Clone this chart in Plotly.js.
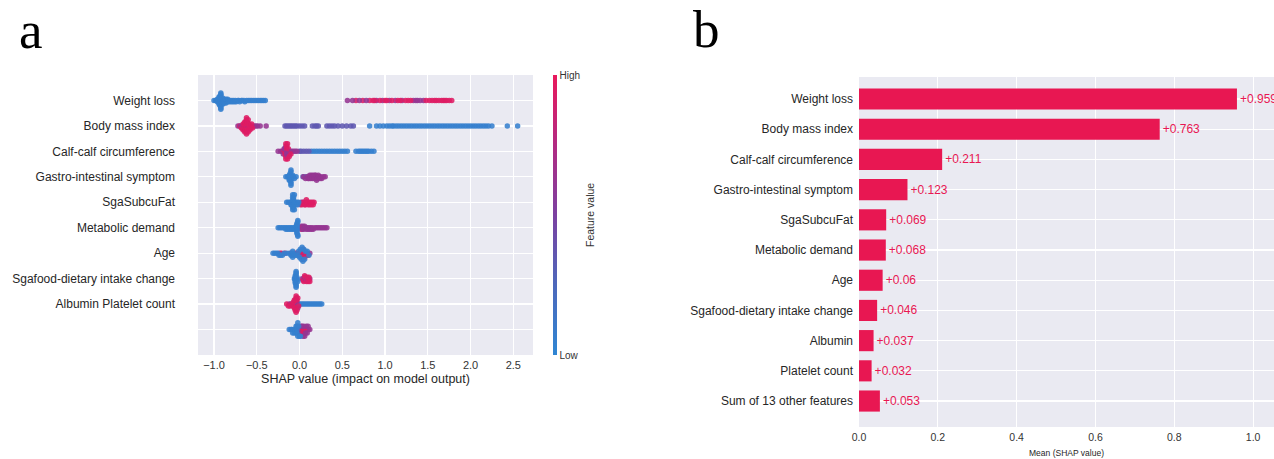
<!DOCTYPE html>
<html><head><meta charset="utf-8">
<script src="https://cdn.plot.ly/plotly-3.0.1.min.js"></script>
<style>html,body{margin:0;padding:0;background:#fff;}#chart{width:1274px;height:459px;}</style>
</head><body><div id="chart"></div>
<script>
// ---------- Panel a: SHAP summary (beeswarm) ----------
const summaryFeatures = ["Weight loss","Body mass index","Calf-calf circumference","Gastro-intestinal symptom","SgaSubcuFat","Metabolic demand","Age","Sgafood-dietary intake change","Albumin Platelet count",""];
// feature-value levels (low=blue ... high=red)
const levelLo = 0.05, levelMl = 0.35, levelMh = 0.62, levelHi = 0.95;

// SHAP values per row, grouped by dot colour
const wlLo = [-1.0,-0.98,-0.97,-0.96,-0.96,-0.95,-0.95,-0.95,-0.94,-0.94,-0.94,-0.94,-0.93,-0.93,-0.93,-0.93,-0.93,-0.93,-0.93,-0.93,-0.92,-0.92,-0.92,-0.92,-0.92,-0.92,-0.91,-0.91,-0.91,-0.9,-0.9,-0.9,-0.89,-0.89,-0.88,-0.88,-0.87,-0.87,-0.86,-0.86,-0.85,-0.84,-0.84,-0.83,-0.82,-0.81,-0.8,-0.79,-0.78,-0.77,-0.76,-0.75,-0.74,-0.72,-0.71,-0.7,-0.68,-0.67,-0.65,-0.64,-0.62,-0.6,-0.58,-0.56,-0.54,-0.52,-0.5,-0.48,-0.46,-0.44,-0.42,-0.4];
const wlMl = [];
const wlMh = [0.56,0.62,0.7,0.78,0.9,0.97,1.05,1.12,1.2,1.33,1.36,1.38,1.41,1.45];
const wlHi = [0.66,0.74,0.82,0.86,0.88,0.94,1.0,1.02,1.08,1.15,1.18,1.24,1.27,1.3,1.48,1.52,1.55,1.58,1.6,1.63,1.66,1.68,1.7,1.72,1.75,1.78];

const bmiLo = [0.82,0.9,0.94,0.98,1.02,1.05,1.08,1.1,1.13,1.16,1.19,1.22,1.25,1.28,1.31,1.34,1.37,1.4,1.43,1.46,1.49,1.52,1.55,1.58,1.61,1.64,1.67,1.7,1.73,1.76,1.79,1.82,1.85,1.88,1.91,1.94,1.97,2.0,2.03,2.06,2.09,2.12,2.15,2.18,2.21,2.25,2.43,2.55];
const bmiMl = [-0.17,-0.15,-0.13,-0.11,-0.09,-0.07,-0.05,-0.03,0.0,0.03,0.06,0.15,0.18,0.2,0.22,0.32,0.35,0.38,0.41,0.45,0.5,0.55,0.6,0.63];
const bmiMh = [-0.72,-0.69,-0.67,-0.65,-0.63,-0.62,-0.61,-0.6,-0.58,-0.57,-0.55,-0.53,-0.51,-0.49,-0.46,-0.39];
const bmiHi = [-0.7,-0.68,-0.67,-0.66,-0.66,-0.65,-0.65,-0.64,-0.64,-0.64,-0.63,-0.63,-0.63,-0.62,-0.62,-0.62,-0.62,-0.61,-0.61,-0.61,-0.6,-0.6,-0.59,-0.59,-0.58,-0.57,-0.56,-0.55];

const calfLo = [0.14,0.17,0.2,0.23,0.26,0.29,0.32,0.35,0.38,0.41,0.44,0.47,0.5,0.53,0.56,0.66,0.69,0.71,0.73,0.75,0.77,0.79,0.81,0.84,0.87];
const calfMl = [0.0,0.02,0.05,0.08,0.11];
const calfMh = [-0.25,-0.22,-0.19,-0.18,-0.17,-0.16,-0.15,-0.15,-0.14,-0.13,-0.12,-0.11,-0.09,-0.07,-0.05,-0.03];
const calfHi = [-0.2,-0.18,-0.17,-0.17,-0.16,-0.16,-0.16,-0.15,-0.15,-0.14,-0.14,-0.13,-0.12,-0.1];

const giLo = [-0.16,-0.14,-0.13,-0.12,-0.12,-0.12,-0.11,-0.11,-0.11,-0.11,-0.11,-0.1,-0.1,-0.1,-0.1,-0.1,-0.09,-0.09,-0.08,-0.07,-0.06,-0.04];
const giMl = [0.04,0.08,0.12,0.2];
const giMh = [0.05,0.07,0.09,0.1,0.11,0.12,0.13,0.14,0.15,0.15,0.16,0.17,0.17,0.18,0.19,0.2,0.21,0.22,0.23,0.24,0.25,0.26,0.28,0.3];
const giHi = [0.14,0.19,0.22];

const fatLo = [-0.15,-0.13,-0.11,-0.1,-0.09,-0.09,-0.08,-0.08,-0.08,-0.08,-0.08,-0.07,-0.07,-0.07,-0.07,-0.07,-0.06,-0.06,-0.05,-0.04,-0.03,-0.02,-0.01];
const fatMl = [];
const fatMh = [0.02,0.04,0.08];
const fatHi = [0.01,0.03,0.05,0.06,0.07,0.08,0.09,0.1,0.11,0.12,0.13,0.14,0.15,0.16,0.17];

const metLo = [-0.25,-0.23,-0.21,-0.19,-0.17,-0.16,-0.15,-0.14,-0.13,-0.12,-0.11,-0.1,-0.09,-0.08,-0.07,-0.06,-0.05,-0.04,-0.04,-0.03,-0.03,-0.03,-0.03,-0.03,-0.03,-0.03,-0.03,-0.02,-0.02,-0.02,-0.02];
const metMl = [];
const metMh = [0.01,0.02,0.03,0.04,0.05,0.06,0.07,0.08,0.09,0.1,0.11,0.12,0.13,0.14,0.15,0.16,0.18,0.2,0.22,0.24,0.26,0.28,0.3,0.32];
const metHi = [0.02,0.03,0.05];

const ageLo = [-0.31,-0.29,-0.27,-0.25,-0.24,-0.22,-0.2,-0.18,-0.15,-0.12,-0.1,-0.09,-0.09,-0.08,-0.08,-0.07,-0.06,-0.04,-0.02,-0.01,0.0,0.01,0.02,0.03,0.04,0.05,0.06,0.07,0.09,0.11];
const ageMl = [];
const ageMh = [-0.03,0.0,0.01,0.02,0.03,0.04,0.05,0.06,0.07,0.09,0.12];
const ageHi = [-0.23,-0.21,-0.17,-0.1,-0.05,0.0,0.01,0.02,0.03,0.03,0.04,0.04,0.05,0.06,0.08,0.1];

const foodLo = [-0.06,-0.05,-0.05,-0.05,-0.05,-0.05,-0.05,-0.04,-0.04,-0.04,-0.04,-0.04,-0.04,-0.03,-0.03,-0.03,-0.02];
const foodMl = [];
const foodMh = [0.03,0.05,0.06,0.07,0.08,0.09,0.1,0.12];
const foodHi = [0.04,0.05,0.05,0.06,0.07,0.08,0.09,0.1,0.11,0.11,0.12];

const albLo = [-0.06,-0.04,-0.03,-0.02,0.0,0.02,0.04,0.06,0.08,0.1,0.12,0.14,0.16,0.18,0.2,0.22,0.24,0.26];
const albMl = [];
const albMh = [-0.12,-0.1,-0.07,-0.05,-0.04,-0.03,-0.02];
const albHi = [-0.15,-0.13,-0.11,-0.09,-0.08,-0.07,-0.06,-0.06,-0.05,-0.05,-0.05,-0.04,-0.04,-0.04,-0.03,-0.03,-0.02,-0.01];

const lastLo = [-0.12,-0.1,-0.09,-0.08,-0.07,-0.06,-0.05,-0.04,-0.04,-0.03,-0.03,-0.03,-0.02,-0.02,-0.01,0.0,0.01];
const lastMl = [];
const lastMh = [-0.01,0.0,0.01,0.02,0.03,0.04,0.05,0.06,0.07,0.08,0.09,0.1,0.12];
const lastHi = [0.02,0.03,0.04,0.05,0.06,0.08,0.1];

const summaryTicks = [-1.0,-0.5,0.0,0.5,1.0,1.5,2.0,2.5];

// ---------- Panel b: mean |SHAP| bar chart ----------
const barFeatures = ["Weight loss","Body mass index","Calf-calf circumference","Gastro-intestinal symptom","SgaSubcuFat","Metabolic demand","Age","Sgafood-dietary intake change","Albumin","Platelet count","Sum of 13 other features"];
const barValues = [0.959,0.763,0.211,0.123,0.069,0.068,0.06,0.046,0.037,0.032,0.053];
const barTicks = [0.0,0.2,0.4,0.6,0.8,1.0];

// ---------- build beeswarm positions (layout only) ----------
const rowGroups = [
  [wlLo,wlMl,wlMh,wlHi],[bmiLo,bmiMl,bmiMh,bmiHi],[calfLo,calfMl,calfMh,calfHi],
  [giLo,giMl,giMh,giHi],[fatLo,fatMl,fatMh,fatHi],[metLo,metMl,metMh,metHi],
  [ageLo,ageMl,ageMh,ageHi],[foodLo,foodMl,foodMh,foodHi],[albLo,albMl,albMh,albHi],
  [lastLo,lastMl,lastMh,lastHi]
];
const levels = [levelLo,levelMl,levelMh,levelHi];
const binW = 0.02;
let px = [], py = [], pc = [];
rowGroups.forEach((groups, r) => {
  const pts = [];
  const maxLen = Math.max(...groups.map(g => g.length));
  for (let i = 0; i < maxLen; i++) {
    groups.forEach((g, gi) => { if (i < g.length) pts.push({x: g[i], c: levels[gi]}); });
  }
  const bins = {};
  const offs = pts.map(p => {
    const b = Math.round(p.x / binW + 1e-9);
    const layer = bins[b] || 0;
    bins[b] = layer + 1;
    return Math.ceil(layer / 2) * ((layer % 2) * 2 - 1);
  });
  const maxO = Math.max(...offs.map(Math.abs));
  const scale = 0.9 * 0.44 / (maxO + 1);
  pts.forEach((p, i) => { px.push(p.x); py.push(r + offs[i] * scale); pc.push(p.c); });
});

const colorscale = [[0,'#2f86d3'],[0.25,'#4d68bb'],[0.5,'#7b41a1'],[0.75,'#b22a82'],[1,'#e9195c']];
const fontFam = 'Liberation Sans, Arial, sans-serif';

const swarm = {
  type: 'scatter', mode: 'markers', x: px, y: py, xaxis: 'x', yaxis: 'y',
  hoverinfo: 'skip',
  marker: {size: 5.5, color: pc, cmin: 0, cmax: 1, colorscale: colorscale, opacity: 0.88,
    line: {width: 0},
    showscale: true,
    colorbar: {x: 553/1274, xanchor: 'left', xpad: 0, ypad: 0, y: 1 - 215/459, yanchor: 'middle',
      len: 280/459, lenmode: 'fraction', thickness: 4, outlinewidth: 0,
      tickvals: [0, 1], ticktext: ['Low', 'High'], ticks: '',
      tickfont: {family: fontFam, size: 10, color: '#333'}}
  }
};

const bars = {
  type: 'bar', orientation: 'h', x: barValues, y: barFeatures, xaxis: 'x2', yaxis: 'y2',
  marker: {color: '#e81752', line: {width: 0}}, width: 0.7,
  text: barValues.map(v => '+' + v), textposition: 'outside', cliponaxis: false,
  textfont: {family: fontFam, size: 12, color: '#e81752'},
  hoverinfo: 'skip'
};

const layout = {
  width: 1274, height: 459, margin: {l: 0, r: 0, t: 0, b: 0},
  paper_bgcolor: '#ffffff', plot_bgcolor: '#eaeaf2', showlegend: false,
  font: {family: fontFam, color: '#262626'},
  xaxis: {domain: [198/1274, 533/1274], range: [-1.187, 2.73], anchor: 'y',
    tickvals: summaryTicks, tickformat: '.1f', showgrid: true, gridcolor: '#ffffff', gridwidth: 1.2,
    zeroline: false, showline: false, ticks: '', ticklabelstandoff: 2, tickfont: {size: 11, color: '#333'},
    title: {text: 'SHAP value (impact on model output)', font: {size: 12.5, color: '#262626'}, standoff: 4}},
  yaxis: {domain: [1 - 355/459, 1 - 75/459], range: [10, -1], anchor: 'x',
    tickvals: [0,1,2,3,4,5,6,7,8,9], ticktext: summaryFeatures, showgrid: true, gridcolor: '#ffffff', gridwidth: 1.2,
    zeroline: false, showline: false, ticks: '', ticklabelstandoff: 22, tickfont: {size: 12, color: '#262626'}},
  xaxis2: {domain: [859/1274, 1], range: [0, 1.053], anchor: 'y2',
    tickvals: barTicks, tickformat: '.1f', showgrid: true, gridcolor: '#ffffff', gridwidth: 1.2,
    zeroline: false, showline: false, ticks: '', ticklabelstandoff: 2, tickfont: {size: 10.5, color: '#333'},
    title: {text: 'Mean (SHAP value)', font: {size: 8.5, color: '#262626'}, standoff: 8}},
  yaxis2: {domain: [1 - 427/459, 1 - 77/459], type: 'category', range: [10.86, -0.73], anchor: 'x2',
    showgrid: true, gridcolor: '#ffffff', gridwidth: 1.2, zeroline: false, showline: false,
    ticks: '', ticklabelstandoff: 5, tickfont: {size: 12, color: '#262626'}},
  shapes: [
    {type: 'line', xref: 'x', yref: 'paper', x0: 0, x1: 0, y0: 1 - 355/459, y1: 1 - 75/459,
      line: {color: '#c9c9d0', width: 1}, layer: 'below'}
  ],
  annotations: [
    {text: 'Feature value', xref: 'paper', yref: 'paper', x: 590/1274, y: 1 - 215/459, xanchor: 'center', yanchor: 'middle',
      textangle: -90, showarrow: false, font: {family: fontFam, size: 10.5, color: '#333'}},
    {text: 'a', xref: 'paper', yref: 'paper', x: 17/1274, y: 1 - 30/459, xanchor: 'left', yanchor: 'middle',
      showarrow: false, font: {family: 'Liberation Serif, Times New Roman, serif', size: 53, color: '#000'}},
    {text: 'b', xref: 'paper', yref: 'paper', x: 691/1274, y: 1 - 29/459, xanchor: 'left', yanchor: 'middle',
      showarrow: false, font: {family: 'Liberation Serif, Times New Roman, serif', size: 53, color: '#000'}}
  ]
};

Plotly.newPlot('chart', [swarm, bars], layout, {displayModeBar: false, staticPlot: true});
</script>
</body></html>
